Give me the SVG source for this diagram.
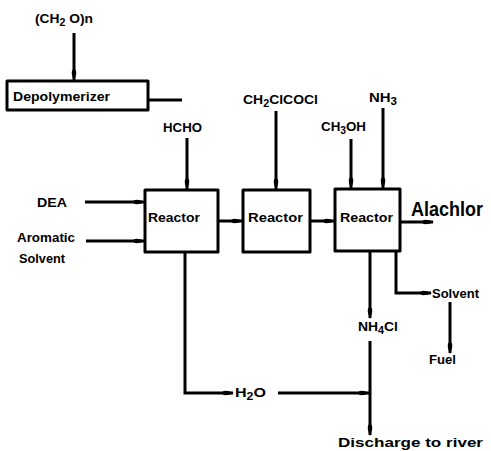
<svg xmlns="http://www.w3.org/2000/svg" width="491" height="451" viewBox="0 0 491 451">
<defs>
<marker id="ah" markerUnits="userSpaceOnUse" markerWidth="12" markerHeight="8" viewBox="0 0 12 8" refX="11" refY="4" orient="auto">
<path d="M0,4 C1,0.8 5,1.2 12,4 C5,6.8 1,7.2 0,4 Z" fill="#000"/>
</marker>
<style>
.box{fill:#fff;stroke:#000;stroke-width:3;stroke-linejoin:round}
.ln{fill:none;stroke:#000;stroke-width:3;stroke-linejoin:miter}
.arr{marker-end:url(#ah)}
text{font-family:"Liberation Sans",Arial,sans-serif;font-weight:bold;font-size:13px;fill:#000}
.big{font-size:20px}
.sub{font-size:10px}
</style>
</defs>
<rect width="491" height="451" fill="#fff"/>

<g id="connectors">
<path class="ln arr" d="M74,33 V80"/>
<path class="ln" d="M148,100 H182"/>
<path class="ln arr" d="M187,138 V189"/>
<path class="ln arr" d="M276,111 V189"/>
<path class="ln arr" d="M351,139 V188"/>
<path class="ln arr" d="M383,108 V188"/>
<path class="ln arr" d="M85,202 H144"/>
<path class="ln arr" d="M86,241 H144"/>
<path class="ln arr" d="M218,221 H242"/>
<path class="ln arr" d="M310,221 H334"/>
<path class="ln arr" d="M400,222 H433"/>
<path class="ln arr" d="M185,252 V393 H233"/>
<path class="ln arr" d="M278,393 H369"/>
<path class="ln arr" d="M370,251 V318"/>
<path class="ln arr" d="M370,341 V435"/>
<path class="ln arr" d="M396,251 V293 H431"/>
<path class="ln arr" d="M450,302 V353"/>
</g>

<g id="feed-ch2on">
<text x="35" y="23" textLength="58" lengthAdjust="spacingAndGlyphs">(CH<tspan class="sub" dy="3">2</tspan><tspan dy="-3"> O)n</tspan></text>
</g>
<g id="depolymerizer">
<rect class="box" x="7" y="81" width="141" height="29"/>
<text x="13" y="101" textLength="97" lengthAdjust="spacingAndGlyphs">Depolymerizer</text>
</g>
<g id="feed-hcho">
<text x="163" y="132" textLength="39" lengthAdjust="spacingAndGlyphs">HCHO</text>
</g>
<g id="feed-ch2clcocl">
<text x="243" y="104" textLength="75" lengthAdjust="spacingAndGlyphs">CH<tspan class="sub" dy="3">2</tspan><tspan dy="-3">ClCOCl</tspan></text>
</g>
<g id="feed-nh3">
<text x="369" y="102" textLength="28" lengthAdjust="spacingAndGlyphs">NH<tspan class="sub" dy="3">3</tspan></text>
</g>
<g id="feed-ch3oh">
<text x="321" y="131" textLength="45" lengthAdjust="spacingAndGlyphs">CH<tspan class="sub" dy="3">3</tspan><tspan dy="-3">OH</tspan></text>
</g>
<g id="feed-dea">
<text x="37" y="207" textLength="30" lengthAdjust="spacingAndGlyphs">DEA</text>
</g>
<g id="feed-aromatic-solvent">
<text x="17" y="242" textLength="58" lengthAdjust="spacingAndGlyphs">Aromatic</text>
<text x="19" y="263" textLength="46" lengthAdjust="spacingAndGlyphs">Solvent</text>
</g>
<g id="reactor1">
<rect class="box" x="145" y="190" width="73" height="62"/>
<text x="148" y="222" textLength="52" lengthAdjust="spacingAndGlyphs">Reactor</text>
</g>
<g id="reactor2">
<rect class="box" x="243" y="190" width="67" height="62"/>
<text x="248" y="222" textLength="55" lengthAdjust="spacingAndGlyphs">Reactor</text>
</g>
<g id="reactor3">
<rect class="box" x="335" y="189" width="65" height="62"/>
<text x="340" y="222" textLength="53" lengthAdjust="spacingAndGlyphs">Reactor</text>
</g>
<g id="product-alachlor">
<text class="big" x="411" y="216" textLength="72" lengthAdjust="spacingAndGlyphs">Alachlor</text>
</g>
<g id="out-solvent">
<text x="432" y="298" textLength="47" lengthAdjust="spacingAndGlyphs">Solvent</text>
</g>
<g id="out-fuel">
<text x="429" y="364" textLength="27" lengthAdjust="spacingAndGlyphs">Fuel</text>
</g>
<g id="out-nh4cl">
<text x="358" y="331" textLength="40" lengthAdjust="spacingAndGlyphs">NH<tspan class="sub" dy="3">4</tspan><tspan dy="-3">Cl</tspan></text>
</g>
<g id="out-h2o">
<text x="235" y="397" textLength="31" lengthAdjust="spacingAndGlyphs">H<tspan class="sub" dy="3">2</tspan><tspan dy="-3">O</tspan></text>
</g>
<g id="out-discharge">
<text x="338" y="447" textLength="145" lengthAdjust="spacingAndGlyphs">Discharge to river</text>
</g>
</svg>
